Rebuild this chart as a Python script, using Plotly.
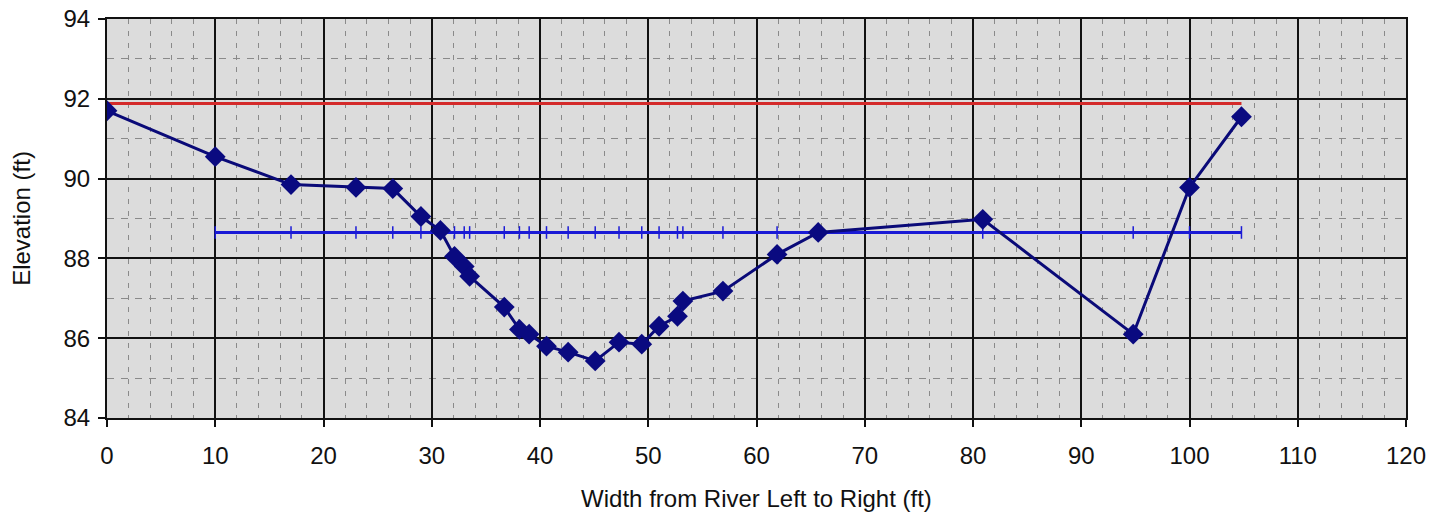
import plotly.graph_objects as go

# Survey cross-section (station ft, elevation ft)
station = [0, 10, 17, 23, 26.4, 29, 30.8, 32.1, 33.0, 33.5, 36.7, 38.1, 39.0, 40.6,
           42.6, 45.1, 47.3, 49.4, 51.0, 52.7, 53.2, 56.9, 61.9, 65.7, 80.9, 94.8,
           100.0, 104.8]
elevation = [91.7, 90.55, 89.85, 89.78, 89.75, 89.05, 88.7, 88.05, 87.8, 87.55, 86.78,
             86.22, 86.1, 85.8, 85.65, 85.43, 85.9, 85.85, 86.3, 86.55, 86.93, 87.18,
             88.1, 88.65, 88.98, 86.1, 89.78, 91.55]

# Bankfull / flood line (red)
flood_x = [0, 104.8]
flood_y = [91.88, 91.88]

# Water surface line (blue)
wse_x = [10, 17, 23, 26.4, 29, 30.8, 32.1, 33.0, 33.5, 36.7, 38.1, 39.0, 40.6,
         42.6, 45.1, 47.3, 49.4, 51.0, 52.7, 53.2, 56.9, 61.9, 65.7, 80.9, 94.8,
         100.0, 104.8]
wse_y = [88.65, 88.65, 88.65, 88.65, 88.65, 88.65, 88.65, 88.65, 88.65, 88.65, 88.65,
         88.65, 88.65, 88.65, 88.65, 88.65, 88.65, 88.65, 88.65, 88.65, 88.65, 88.65,
         88.65, 88.65, 88.65, 88.65, 88.65]

x_ticks = [0, 10, 20, 30, 40, 50, 60, 70, 80, 90, 100, 110, 120]
y_ticks = [84, 86, 88, 90, 92, 94]

FONT = "Liberation Sans, Arial, sans-serif"

fig = go.Figure()
fig.add_trace(go.Scatter(x=flood_x, y=flood_y, mode="lines",
                         line=dict(color="#d42a2a", width=3), showlegend=False))
fig.add_trace(go.Scatter(x=wse_x, y=wse_y, mode="lines+markers",
                         line=dict(color="#1a1ad6", width=3),
                         marker=dict(symbol="line-ns-open", size=9,
                                     line=dict(color="#1a1ad6", width=1.5)),
                         showlegend=False))
fig.add_trace(go.Scatter(x=station, y=elevation, mode="lines+markers",
                         line=dict(color="#0a0a78", width=3),
                         marker=dict(symbol="diamond", size=16, color="#0a0a80"),
                         showlegend=False))

fig.update_layout(
    width=1440, height=514,
    margin=dict(l=107, r=34, t=19, b=96),
    paper_bgcolor="white", plot_bgcolor="#dcdcdc",
    font=dict(family=FONT, size=24, color="#111111"),
)
fig.update_xaxes(
    range=[0, 120], tickvals=x_ticks, ticktext=[str(v) for v in x_ticks],
    automargin=False, ticklabelstandoff=8,
    showgrid=True, gridcolor="#111111", gridwidth=1.5,
    minor=dict(dtick=2, showgrid=True, gridcolor="#8a8a8a", griddash="5px,7px", gridwidth=1),
    showline=True, linecolor="#111111", linewidth=2, mirror=True,
    ticks="outside", ticklen=7, tickcolor="#111111", tickwidth=1.5,
    zeroline=False,
    title=dict(text="Width from River Left to Right (ft)", font=dict(size=24), standoff=22),
)
fig.update_yaxes(
    range=[84, 94], tickvals=y_ticks, ticktext=[str(v) for v in y_ticks],
    automargin=False, ticklabelstandoff=3,
    showgrid=True, gridcolor="#111111", gridwidth=1.5,
    minor=dict(dtick=1, showgrid=True, gridcolor="#8a8a8a", griddash="7px,7px", gridwidth=1),
    showline=True, linecolor="#111111", linewidth=2, mirror=True,
    ticks="outside", ticklen=7, tickcolor="#111111", tickwidth=1.5,
    zeroline=False,
    title=dict(text="Elevation (ft)", font=dict(size=24), standoff=26),
)

fig.write_html("out.html",
               config={"displayModeBar": False},
               post_script="document.body.style.margin='0';document.body.style.overflow='hidden';")
